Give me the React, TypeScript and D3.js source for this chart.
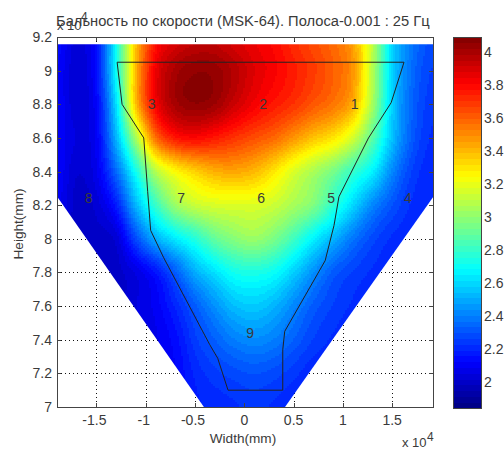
import { useEffect, useRef } from 'react';
import * as d3 from 'd3';

const titleText = 'Бальность по скорости (MSK-64). Полоса-0.001 : 25 Гц';
const xTicks = [-1.5, -1, -0.5, 0, 0.5, 1, 1.5];
const yTicks = [7, 7.2, 7.4, 7.6, 7.8, 8, 8.2, 8.4, 8.6, 8.8, 9, 9.2];
const barTicks = [2, 2.2, 2.4, 2.6, 2.8, 3, 3.2, 3.4, 3.6, 3.8, 4];

// knots of the value table, x and y in units of 10^4 mm
const gridX = [-1.9, -1.7, -1.5, -1.3, -1.1, -0.9, -0.7, -0.5, -0.3, -0.1, 0.1, 0.3, 0.5, 0.7, 0.9, 1.1, 1.3, 1.5, 1.7, 1.9];
const gridY = [9.16, 9, 8.8, 8.6, 8.4, 8.2, 8, 7.8, 7.6, 7.4, 7.2, 7];
const gridValues = [
  [2.14, 2.04, 2.15, 2.7, 3.38, 3.78, 3.9, 3.95, 3.95, 3.9, 3.85, 3.8, 3.72, 3.65, 3.58, 3.46, 3.1, 2.6, 2.38, 2.28],
  [2.12, 2.03, 2.15, 2.7, 3.4, 3.84, 4.0, 4.05, 4.04, 3.97, 3.88, 3.82, 3.75, 3.68, 3.6, 3.48, 3.08, 2.6, 2.36, 2.26],
  [2.12, 2.03, 2.12, 2.62, 3.38, 3.82, 4.0, 4.05, 4.02, 3.92, 3.83, 3.76, 3.7, 3.62, 3.55, 3.42, 3.05, 2.58, 2.34, 2.24],
  [2.12, 2.05, 2.1, 2.52, 3.05, 3.56, 3.76, 3.8, 3.76, 3.7, 3.64, 3.58, 3.48, 3.38, 3.3, 3.15, 2.88, 2.55, 2.32, 2.22],
  [2.12, 2.02, 2.08, 2.35, 2.72, 3.08, 3.25, 3.35, 3.42, 3.44, 3.4, 3.3, 3.17, 3.06, 2.95, 2.8, 2.66, 2.42, 2.26, 2.2],
  [2.1, 2.0, 2.03, 2.18, 2.52, 2.8, 3.02, 3.12, 3.16, 3.17, 3.17, 3.13, 3.05, 2.96, 2.78, 2.6, 2.42, 2.3, 2.22, 2.2],
  [2.08, 2.0, 2.0, 2.03, 2.28, 2.5, 2.64, 2.76, 2.9, 2.98, 3.02, 2.95, 2.82, 2.66, 2.52, 2.38, 2.28, 2.22, 2.2, 2.2],
  [2.08, 2.0, 2.0, 2.0, 2.06, 2.16, 2.32, 2.5, 2.62, 2.72, 2.74, 2.7, 2.58, 2.44, 2.32, 2.26, 2.22, 2.2, 2.2, 2.2],
  [2.08, 2.0, 2.0, 2.0, 2.05, 2.1, 2.2, 2.32, 2.44, 2.54, 2.57, 2.52, 2.42, 2.32, 2.26, 2.22, 2.2, 2.2, 2.2, 2.2],
  [2.08, 2.0, 2.0, 2.0, 2.05, 2.08, 2.14, 2.25, 2.33, 2.4, 2.43, 2.4, 2.33, 2.26, 2.22, 2.2, 2.2, 2.2, 2.2, 2.2],
  [2.08, 2.0, 2.0, 2.0, 2.05, 2.08, 2.12, 2.2, 2.25, 2.28, 2.3, 2.28, 2.24, 2.2, 2.2, 2.2, 2.2, 2.2, 2.2, 2.2],
  [2.08, 2.0, 2.0, 2.0, 2.05, 2.08, 2.12, 2.18, 2.2, 2.22, 2.24, 2.22, 2.2, 2.2, 2.2, 2.2, 2.2, 2.2, 2.2, 2.2],
];

// edge of the measured area
const areaX = [-1.91, 1.93, 1.93, 0.413, -0.41, -1.91];
const areaY = [9.157, 9.157, 8.26, 7, 7, 8.26];

// outline drawn over the map
const outlineX = [-1.29, 1.62, 1.49, 1.26, 0.96, 0.91, 0.82, 0.41, 0.39, 0.39, -0.165, -0.27, -0.35, -0.82, -0.95, -0.98, -1.02, -1.24, -1.29];
const outlineY = [9.05, 9.05, 8.81, 8.6, 8.25, 8.08, 7.87, 7.45, 7.34, 7.1, 7.1, 7.29, 7.37, 7.89, 8.05, 8.28, 8.6, 8.8, 9.05];

const sensorLabels = ['1', '2', '3', '4', '5', '6', '7', '8', '9'];
const sensorX = [1.12, 0.19, -0.94, 1.66, 0.88, 0.17, -0.64, -1.58, 0.06];
const sensorY = [8.8, 8.8, 8.8, 8.24, 8.24, 8.24, 8.24, 8.24, 7.44];

const barMin = 1.84;
const barMax = 4.09;
const levels = 64;
const fontFamily = '"Liberation Sans", Arial, sans-serif';
const ink = '#3a3a3a';

function jet(t: number) {
  const c = (v: number) => Math.round(255 * Math.max(0, Math.min(1, v)));
  const r = c(Math.min(4 * t - 1.5, -4 * t + 4.5));
  const g = c(Math.min(4 * t - 0.5, -4 * t + 3.5));
  const b = c(Math.min(4 * t + 0.5, -4 * t + 2.5));
  return `rgb(${r},${g},${b})`;
}

function catmull(p0: number, p1: number, p2: number, p3: number, t: number) {
  return 0.5 * (2 * p1 + (p2 - p0) * t + (2 * p0 - 5 * p1 + 4 * p2 - p3) * t * t + (3 * p1 - p0 - 3 * p2 + p3) * t * t * t);
}

export default function App() {
  const svgRef = useRef<SVGSVGElement>(null);

  useEffect(() => {
    const svg = d3.select(svgRef.current);
    svg.selectAll('*').remove();

    const x = d3.scaleLinear().domain([-1.9, 1.914]).range([57, 433]);
    const y = d3.scaleLinear().domain([7, 9.2]).range([407, 37]);
    const bar = d3.scaleLinear().domain([barMin, barMax]).range([408, 37]);
    const text = (sel: any, size = 14) => sel.attr('font-family', fontFamily).attr('fill', ink).attr('font-size', size);

    // fractional position in the value table
    const colIndex = d3.scaleLinear().domain(gridX).range(gridX.map((_, i) => i)).clamp(true);
    const rowIndex = d3.scaleLinear().domain(gridY).range(gridY.map((_, i) => i)).clamp(true);
    const at = (r: number, c: number) =>
      gridValues[Math.max(0, Math.min(gridY.length - 1, r))][Math.max(0, Math.min(gridX.length - 1, c))];
    const valueAt = (vx: number, vy: number) => {
      const cf = colIndex(vx);
      const rf = rowIndex(vy);
      const c = Math.min(gridX.length - 2, Math.floor(cf));
      const r = Math.min(gridY.length - 2, Math.floor(rf));
      const rows = [-1, 0, 1, 2].map((dr) =>
        catmull(at(r + dr, c - 1), at(r + dr, c), at(r + dr, c + 1), at(r + dr, c + 2), cf - c)
      );
      return catmull(rows[0], rows[1], rows[2], rows[3], rf - r);
    };

    const level = d3.scaleQuantize<number>().domain([barMin, barMax]).range(d3.range(levels));

    svg.append('clipPath').attr('id', 'area')
      .append('polygon')
      .attr('points', areaX.map((d, i) => `${x(d)},${y(areaY[i])}`).join(' '));

    // dotted grid sits under the map
    const grid = svg.append('g').attr('stroke', '#111').attr('stroke-dasharray', '1 3').attr('stroke-width', 1);
    xTicks.filter((d) => d !== 0).forEach((d) => {
      grid.append('line').attr('x1', Math.round(x(d)) + 0.5).attr('x2', Math.round(x(d)) + 0.5).attr('y1', 37).attr('y2', 407);
    });
    yTicks.slice(1, -1).forEach((d) => {
      grid.append('line').attr('y1', Math.round(y(d)) + 0.5).attr('y2', Math.round(y(d)) + 0.5).attr('x1', 57).attr('x2', 433);
    });

    // map, one path per colour level
    const step = 2;
    const paths: string[] = d3.range(levels).map(() => '');
    for (let py = 44; py < 408; py += step) {
      for (let px = 57; px < 433; px += step) {
        const v = valueAt(x.invert(px + step / 2), y.invert(py + step / 2));
        paths[level(v)] += `M${px} ${py}h${step}v${step}h${-step}z`;
      }
    }
    const map = svg.append('g').attr('clip-path', 'url(#area)');
    paths.forEach((d, i) => {
      if (d) map.append('path').attr('d', d).attr('fill', jet((i + 0.5) / levels)).attr('shape-rendering', 'crispEdges');
    });

    // outline and sensor numbers
    const line = d3.line<number>().x((d) => x(d)).y((_, i) => y(outlineY[i]));
    svg.append('path').attr('d', line(outlineX)).attr('fill', 'none').attr('stroke', '#222').attr('stroke-width', 1);
    sensorLabels.forEach((d, i) => {
      svg.append('text').call(text).attr('x', x(sensorX[i])).attr('y', y(sensorY[i]) + 5)
        .attr('text-anchor', 'middle').text(d);
    });

    // axes box
    svg.append('rect').attr('x', 57.5).attr('y', 37.5).attr('width', 376).attr('height', 370)
      .attr('fill', 'none').attr('stroke', '#444');
    const ticks = svg.append('g').attr('stroke', '#444');
    xTicks.forEach((d) => {
      const p = Math.round(x(d)) + 0.5;
      ticks.append('line').attr('x1', p).attr('x2', p).attr('y1', 407).attr('y2', 403);
      ticks.append('line').attr('x1', p).attr('x2', p).attr('y1', 37).attr('y2', 41);
      svg.append('text').call(text).attr('x', x(d) - (d < 0 ? 2 : 0)).attr('y', 425).attr('text-anchor', 'middle').text(String(d));
    });
    yTicks.forEach((d) => {
      const p = Math.round(y(d)) + 0.5;
      ticks.append('line').attr('x1', 57).attr('x2', 61).attr('y1', p).attr('y2', p);
      ticks.append('line').attr('x1', 433).attr('x2', 429).attr('y1', p).attr('y2', p);
      svg.append('text').call(text).attr('x', 52).attr('y', y(d) + 5).attr('text-anchor', 'end').text(String(d));
    });

    // titles and exponents
    svg.append('text').call(text, 14.7).attr('x', 56).attr('y', 26).text(titleText);
    svg.append('text').call(text, 13.6).attr('x', 243).attr('y', 443).attr('text-anchor', 'middle').text('Width(mm)');
    svg.append('text').call(text, 13.6).attr('transform', 'translate(23,224) rotate(-90)')
      .attr('text-anchor', 'middle').text('Height(mm)');
    svg.append('text').call(text, 13).attr('x', 57).attr('y', 30).text('x 10');
    svg.append('text').call(text, 12).attr('x', 81).attr('y', 21).text('4');
    svg.append('text').call(text, 13).attr('x', 402).attr('y', 447).text('x 10');
    svg.append('text').call(text, 12).attr('x', 427).attr('y', 441).text('4');

    // colour bar
    const bands = svg.append('g').attr('shape-rendering', 'crispEdges');
    d3.range(levels).forEach((i) => {
      const v0 = barMin + ((barMax - barMin) * i) / levels;
      const v1 = barMin + ((barMax - barMin) * (i + 1)) / levels;
      bands.append('rect').attr('x', 453).attr('width', 28)
        .attr('y', bar(v1)).attr('height', bar(v0) - bar(v1) + 0.5)
        .attr('fill', jet((i + 0.5) / levels));
    });
    svg.append('rect').attr('x', 453.5).attr('y', 37.5).attr('width', 28).attr('height', 371)
      .attr('fill', 'none').attr('stroke', '#444');
    barTicks.forEach((d) => {
      const p = Math.round(bar(d)) + 0.5;
      ticks.append('line').attr('x1', 453).attr('x2', 457).attr('y1', p).attr('y2', p);
      ticks.append('line').attr('x1', 481).attr('x2', 477).attr('y1', p).attr('y2', p);
      svg.append('text').call(text).attr('x', 484).attr('y', bar(d) + 5).text(String(d));
    });
  }, []);

  return <svg ref={svgRef} width="504" height="449" style={{ position: 'absolute', left: 0, top: 0, background: '#fff' }} />;
}
